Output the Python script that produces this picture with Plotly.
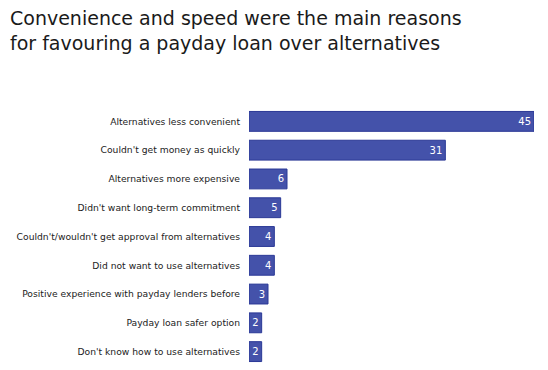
import plotly.graph_objects as go

categories = [
    "Alternatives less convenient",
    "Couldn't get money as quickly",
    "Alternatives more expensive",
    "Didn't want long-term commitment",
    "Couldn't/wouldn't get approval from alternatives",
    "Did not want to use alternatives",
    "Positive experience with payday lenders before",
    "Payday loan safer option",
    "Don't know how to use alternatives",
]
values = [45, 31, 6, 5, 4, 4, 3, 2, 2]
title_text = "Convenience and speed were the main reasons<br>for favouring a payday loan over alternatives"

# the page body has an 8px margin, so the figure is drawn 8px in from the corner
OFF = 8
W, H = 548 - OFF, 370 - OFF
L, R, T, B = 249 - OFF, 14, 107 - OFF, 4
plot_w = W - L - R
plot_h = H - T - B

fig = go.Figure(
    go.Bar(
        x=values,
        y=categories,
        orientation="h",
        marker=dict(color="rgb(68,82,170)", line=dict(color="rgb(42,56,150)", width=1)),
        text=[str(v) for v in values],
        textposition="inside",
        insidetextanchor="end",
        constraintext="none",
        textfont=dict(color="white", size=10, family="DejaVu Sans"),
        cliponaxis=False,
        hoverinfo="skip",
    )
)

fig.add_annotation(
    text=title_text,
    xref="paper",
    yref="paper",
    x=(0 - L) / plot_w,
    y=1 + (T + 3) / plot_h,
    xanchor="left",
    yanchor="top",
    align="left",
    showarrow=False,
    font=dict(family="DejaVu Sans", size=19, color="#1a1a1a"),
)

fig.update_layout(
    width=W,
    height=H,
    margin=dict(l=L, r=R, t=T, b=B, autoexpand=False),
    paper_bgcolor="white",
    plot_bgcolor="white",
    bargap=0.31,
    showlegend=False,
    font=dict(family="DejaVu Sans", size=9.2, color="#222222"),
    xaxis=dict(range=[0, 45], visible=False, fixedrange=True),
    yaxis=dict(
        autorange="reversed",
        automargin=False,
        showgrid=False,
        showline=False,
        zeroline=False,
        ticks="",
        ticklabelstandoff=8,
        tickfont=dict(family="DejaVu Sans", size=9.2, color="#222222"),
    ),
)

fig.write_html("out.html")
